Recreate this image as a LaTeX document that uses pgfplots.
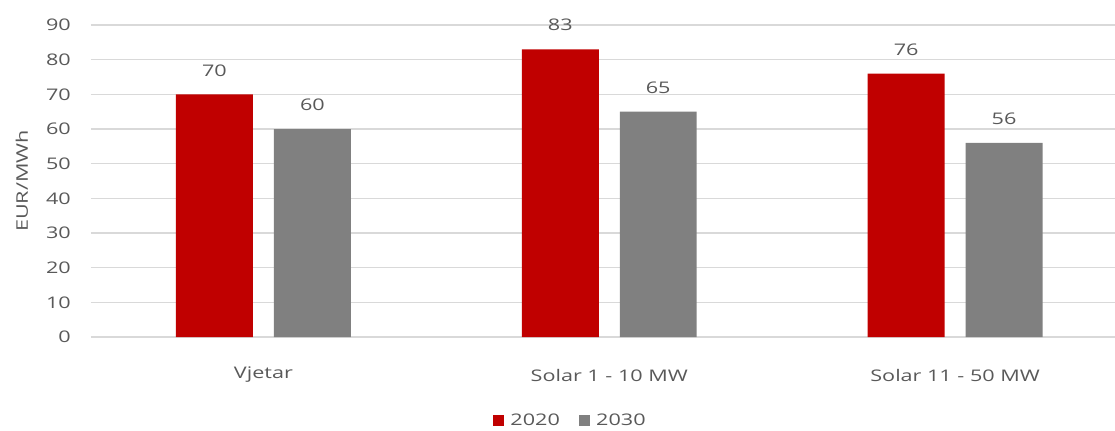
\documentclass[border=0pt]{standalone}
\usepackage{fontspec}
\setmainfont{Open Sans}[FakeStretch=1.35]
\usepackage{pgfplots}
\pgfplotsset{compat=1.18}
\definecolor{cred}{HTML}{C00000}
\definecolor{cgray}{HTML}{808080}
\definecolor{gridc}{HTML}{D9D9D9}
\definecolor{txt}{HTML}{595959}
\begin{document}
\begin{tikzpicture}
\useasboundingbox (-68.25pt,-69.75pt) rectangle (768pt,252.75pt);
\begin{axis}[
  scale only axis,
  width=768pt, height=234pt,
  xmin=-0.4986, xmax=2.4624,
  ymin=0, ymax=90,
  ytick={0,10,...,90},
  xtick={0,1,2},
  xticklabels={Vjetar, Solar 1 - 10 MW, Solar 11 - 50 MW},
  ymajorgrids, grid style={draw=gridc, line width=0.9pt},
  axis line style={draw=none},
  major tick length=0pt,
  tick style={draw=none},
  font=\fontsize{12}{14}\selectfont,
  tick label style={text=txt, font=\fontsize{12}{14}\selectfont},
  /pgf/number format/assume math mode=true,
  x tick label style={anchor=center, inner sep=0pt, yshift=-28.5pt},
  y tick label style={anchor=east, inner sep=0pt, xshift=-15pt},
  ylabel={EUR/MWh},
  every axis y label/.style={at={(axis description cs:-0.0674,0.5)}, anchor=center, rotate=90, text=txt, font=\fontsize{12}{14}\selectfont},
  ybar,
  bar width=0.2225,
  nodes near coords,
  every node near coord/.append style={anchor=center, inner sep=0pt, yshift=18pt, text=txt, font=\fontsize{12}{14}\selectfont},
  legend style={at={(axis description cs:0.467,-0.269)}, anchor=center, draw=none, legend columns=2, font=\fontsize{12}{14}\selectfont, text=txt, nodes={inner xsep=0pt},
    /tikz/every odd column/.append style={column sep=5pt},
    /tikz/every even column/.append style={column sep=14pt}},
  legend image code/.code={\fill[#1] (0pt,-4pt) rectangle (8.25pt,4.25pt);},
]
\addplot[fill=cred, draw=none, bar shift=-0.1416] coordinates {(0,70) (1,83) (2,76)};
\addplot[fill=cgray, draw=none, bar shift=0.1416] coordinates {(0,60) (1,65) (2,56)};
\legend{2020, 2030}
\end{axis}
\end{tikzpicture}
\end{document}
